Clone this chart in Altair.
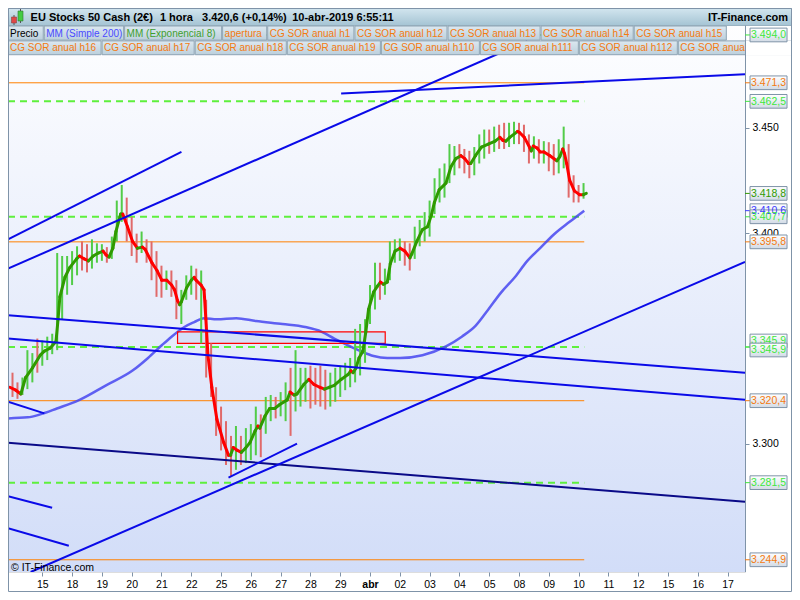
import altair as alt
import pandas as pd

# ------------------------------------------------------------------ data
DAY_LABELS = ["15", "18", "19", "20", "21", "22", "25", "26", "27", "28", "29", "abr",
              "02", "03", "04", "05", "08", "09", "10", "11", "12", "15", "16", "17"]

# 4-hour bars: first bar start (in trading-day index) and bar length
CANDLE_T0 = -7 / 6
CANDLE_STEP = 1 / 6
CANDLE_HIGH = [
    3335.1, 3333.7, 3329.1, 3331.4, 3344.4, 3343.0, 3349.9, 3349.0, 3350.8, 3352.2,
    3390.5, 3389.1, 3389.1, 3391.4, 3393.7, 3396.0, 3394.7, 3397.0, 3395.1, 3394.7,
    3393.3, 3398.3, 3415.4, 3422.8, 3416.8, 3407.6, 3399.7, 3400.7, 3397.0, 3396.0,
    3391.4, 3384.5, 3382.2, 3382.2, 3377.6, 3373.0, 3379.9, 3384.5, 3383.1, 3382.2,
    3368.3, 3347.6, 3326.8, 3317.6, 3310.7, 3303.7, 3308.4, 3303.7, 3307.4, 3309.3,
    3317.6, 3313.9, 3322.2, 3323.1, 3322.2, 3324.5, 3329.1, 3336.0, 3344.4, 3336.0,
    3336.0, 3337.0, 3336.0, 3337.0, 3335.1, 3333.7, 3336.0, 3337.0, 3338.4, 3340.7,
    3354.5, 3356.8, 3359.1, 3375.3, 3385.9, 3385.9, 3383.1, 3396.0, 3397.0, 3397.4,
    3396.0, 3395.1, 3403.0, 3406.2, 3409.9, 3415.4, 3426.0, 3430.7, 3433.0, 3442.2,
    3441.3, 3442.2, 3439.9, 3439.0, 3440.8, 3446.8, 3449.1, 3449.1, 3450.5, 3451.4,
    3452.3, 3452.3, 3452.8, 3452.3, 3451.4, 3446.8, 3445.9, 3444.5, 3443.6, 3443.1,
    3442.2, 3444.5, 3450.5, 3442.2, 3427.4, 3422.8, 3423.7]
CANDLE_LOW = [
    3323.1, 3322.2, 3321.3, 3323.1, 3325.9, 3329.1, 3333.7, 3337.0, 3339.7, 3342.5,
    3344.4, 3359.1, 3370.7, 3375.3, 3379.9, 3382.2, 3381.3, 3383.1, 3385.9, 3386.8,
    3385.9, 3387.7, 3396.0, 3405.3, 3396.0, 3389.1, 3385.9, 3390.5, 3385.9, 3377.6,
    3369.7, 3369.3, 3373.0, 3369.7, 3359.1, 3356.8, 3368.3, 3370.7, 3368.3, 3347.6,
    3331.4, 3322.2, 3303.7, 3296.8, 3289.9, 3284.4, 3287.6, 3289.9, 3290.8, 3292.2,
    3294.5, 3293.6, 3304.7, 3310.7, 3312.0, 3313.0, 3310.7, 3303.7, 3315.3, 3317.6,
    3319.9, 3316.7, 3318.5, 3317.6, 3316.2, 3317.6, 3319.9, 3322.2, 3325.4, 3326.8,
    3329.1, 3332.4, 3338.4, 3356.8, 3363.7, 3368.3, 3370.7, 3377.6, 3385.9, 3386.8,
    3384.5, 3382.2, 3387.7, 3393.7, 3396.0, 3398.3, 3409.0, 3414.5, 3416.8, 3423.7,
    3427.4, 3430.7, 3428.3, 3426.0, 3427.4, 3433.0, 3435.3, 3437.6, 3438.5, 3439.9,
    3439.9, 3440.8, 3442.2, 3442.2, 3438.5, 3433.0, 3435.3, 3433.0, 3433.0, 3429.3,
    3427.4, 3428.3, 3430.7, 3416.8, 3414.5, 3414.5, 3416.3]
# g = bullish bar, r = bearish bar
CANDLE_DIR = ("rrrgggrggg" "gggggrrggg" "rgggrrrgrr" "rrgrrgggrg" "rrrrrrgrgg"
              "grggrggrgg" "grrrrggggg" "gggggrgggg" "rrgggggggg" "grrrgggrgr"
              "rggrrrgrgr" "rggrrrg")

EMA_DAY = [
    -1.09, -0.89, -0.72, -0.56, -0.33, -0.07, 0.07, 0.26, 0.46, 0.53,
    0.59, 0.76, 0.92, 1.15, 1.25, 1.41, 1.55, 1.71, 1.88, 2.04,
    2.14, 2.24, 2.37, 2.47, 2.63, 2.70, 2.86, 3.03, 3.19, 3.36,
    3.45, 3.68, 3.85, 4.01, 4.18, 4.34, 4.44, 4.54, 4.61, 4.67,
    4.84, 5.00, 5.10, 5.16, 5.33, 5.43, 5.49, 5.56, 5.69, 5.86,
    6.09, 6.25, 6.32, 6.41, 6.55, 6.68, 6.81, 6.97, 7.14, 7.24,
    7.30, 7.47, 7.63, 7.80, 7.96, 8.22, 8.32, 8.45, 8.55, 8.78,
    8.95, 9.11, 9.31, 9.47, 9.64, 9.80, 10.03, 10.26, 10.36, 10.43,
    10.53, 10.63, 10.76, 10.86, 10.95, 11.12, 11.25, 11.35, 11.45, 11.58,
    11.68, 11.84, 12.01, 12.17, 12.34, 12.40, 12.57, 12.76, 12.93, 13.06,
    13.16, 13.32, 13.55, 13.72, 13.88, 14.05, 14.18, 14.31, 14.38, 14.54,
    14.74, 14.97, 15.20, 15.36, 15.46, 15.56, 15.69, 15.95, 16.02, 16.18,
    16.35, 16.41, 16.48, 16.61, 16.71, 16.84, 17.04, 17.27, 17.37, 17.47,
    17.53, 17.60, 17.70, 17.86, 18.03, 18.16, 18.26]
EMA_PRICE = [
    3326.8, 3325.4, 3323.6, 3331.4, 3336.0, 3342.0, 3343.9, 3345.3, 3348.5, 3359.1,
    3369.7, 3379.0, 3383.6, 3387.7, 3389.1, 3387.7, 3386.8, 3389.1, 3390.5, 3391.4,
    3389.6, 3388.6, 3392.8, 3400.7, 3409.0, 3409.0, 3403.0, 3396.0, 3392.8, 3393.3,
    3392.3, 3385.9, 3382.2, 3377.6, 3377.6, 3375.3, 3373.0, 3367.9, 3366.0, 3367.4,
    3373.9, 3377.6, 3379.0, 3377.6, 3375.3, 3373.0, 3359.1, 3342.0, 3326.8, 3311.6,
    3300.5, 3294.5, 3294.5, 3298.2, 3296.8, 3295.9, 3297.7, 3300.5, 3306.0, 3308.4,
    3307.4, 3313.0, 3316.7, 3316.7, 3318.5, 3320.8, 3324.5, 3323.1, 3323.6, 3328.2,
    3330.5, 3328.2, 3326.8, 3325.9, 3326.8, 3327.7, 3330.5, 3332.8, 3334.6, 3333.7,
    3336.0, 3340.7, 3343.9, 3353.1, 3363.7, 3372.0, 3374.8, 3376.7, 3375.7, 3376.7,
    3385.4, 3391.4, 3392.8, 3391.4, 3388.2, 3390.0, 3396.0, 3401.6, 3403.0, 3408.5,
    3414.5, 3420.5, 3423.7, 3431.6, 3435.3, 3436.7, 3435.3, 3433.0, 3433.0, 3436.7,
    3440.8, 3442.2, 3443.6, 3445.4, 3444.0, 3443.6, 3445.4, 3448.2, 3447.7, 3445.4,
    3440.8, 3439.0, 3441.3, 3440.3, 3438.5, 3438.5, 3436.7, 3434.3, 3436.2, 3439.9,
    3437.6, 3433.0, 3425.1, 3420.0, 3418.2, 3418.2, 3418.8]

SMA_DAY = [-1.15, -0.49, -0.07, 0.49, 1.25, 2.14, 3.03, 3.55, 4.01, 4.34, 4.77, 5.10,
           5.43, 5.86, 6.51, 7.17, 8.06, 8.82, 9.38, 9.80, 10.26, 10.69, 11.12, 11.58,
           12.01, 12.76, 13.55, 14.08, 14.54, 14.97, 15.39, 15.86, 16.28, 16.71, 17.17,
           17.70, 18.19]
SMA_PRICE = [3312.0, 3312.5, 3313.9, 3316.7, 3320.8, 3327.7, 3334.7, 3340.7, 3346.7,
             3350.8, 3355.4, 3357.7, 3359.6, 3359.1, 3359.6, 3358.2, 3356.8, 3355.4,
             3353.1, 3349.9, 3346.7, 3343.9, 3341.6, 3340.7, 3340.7, 3342.0, 3346.2,
             3350.8, 3355.9, 3363.7, 3371.6, 3379.0, 3386.8, 3392.8, 3399.3, 3405.3,
             3410.6]

ORANGE_LEVELS = [3471.3, 3395.8, 3320.4, 3244.9]
GREEN_LEVELS = [3494.0, 3462.5, 3407.7, 3345.9, 3281.5]
LEVEL_FROM = -1.151
LEVEL_TO = 18.19

# trend lines: start day, start price, end day, end price, kind
TL_D0 = [-1.151, -1.151, 10.03, -1.151, -1.151, -1.151, -1.151, -1.151, -1.151, 6.25, -0.39]
TL_P0 = [3383.1, 3397.0, 3466.2, 3361.0, 3349.9, 3300.5, 3319.9, 3275.1, 3259.9, 3283.9, 3239.1]
TL_D1 = [16.28, 4.67, 23.586, 23.586, 23.586, 23.586, 0.07, 0.33, 0.89, 8.55, 23.586]
TL_P1 = [3491.1, 3438.5, 3475.4, 3333.7, 3320.8, 3272.4, 3314.4, 3269.6, 3251.6, 3300.0, 3386.3]
TL_KIND = ["blue", "blue", "blue", "blue", "blue", "navy", "blue", "blue", "blue", "blue", "blue"]

ZONE_D = [4.54, 11.51]
ZONE_P = [3347.6, 3353.1]

TAG_VALUE = [3494.0, 3471.3, 3462.5, 3418.8, 3410.6, 3407.7, 3395.8, 3345.9, 3345.9,
             3320.4, 3281.5, 3244.9]
TAG_TEXT = ["3.494,0", "3.471,3", "3.462,5", "3.418,8", "3.410,6", "3.407,7", "3.395,8",
            "3.345,9", "3.345,9", "3.320,4", "3.281,5", "3.244,9"]
TAG_KIND = ["level", "pivot", "level", "ema", "sma", "level", "pivot", "level", "level",
            "pivot", "level", "pivot"]

AXIS_VALUES = [3300, 3400, 3450]

LEGEND_ROW1 = ["Precio", "MM (Simple 200)", "MM (Exponencial 8)", "apertura",
               "CG SOR anual h1", "CG SOR anual h12", "CG SOR anual h13",
               "CG SOR anual h14", "CG SOR anual h15"]
LEGEND_ROW2 = ["CG SOR anual h16", "CG SOR anual h17", "CG SOR anual h18",
               "CG SOR anual h19", "CG SOR anual h110", "CG SOR anual h111",
               "CG SOR anual h112", "CG SOR anual h113"]

HEADER_PARTS = ["EU Stocks 50 Cash (2€)", "1 hora", "3.420,6 (+0,14%)", "10-abr-2019 6:55:11"]

# ------------------------------------------------------------------ style / layout
FONT = "Liberation Sans"
SX, SY = 0.98, 0.9733           # reference-pixel to chart-pixel factors
W, H = 737, 564
XS = alt.Scale(domain=[-1.151, 23.586], nice=False, zero=False)
YS = alt.Scale(domain=[3239.1, 3506.8], nice=False, zero=False)
BORDER = "#7f93a8"
ORANGE = "#f47a10"
COLORS = {"level": "#3de83d", "pivot": "#f47a10", "ema": "#2f9a00", "sma": "#3c3cff"}
TL_COLORS = {"blue": "#0a0ae8", "navy": "#0a0a88"}
CANDLE_COLORS = {"g": "#52cc48", "r": "#e06a6a"}
EMA_COLORS = {"up": "#2f9a00", "down": "#ff0000"}

label_arr = "[" + ",".join("'%s'" % s for s in DAY_LABELS) + "]"
XA = alt.Axis(values=list(range(len(DAY_LABELS))), labelExpr=label_arr + "[datum.value]",
              title=None, grid=False, domain=False, tickSize=4, tickColor=BORDER,
              labelFontSize=10.5, labelFont=FONT, labelColor="#000", labelPadding=3,
              labelOverlap=False, labelFlush=False,
              labelFontWeight={"condition": {"test": "datum.value == 11", "value": "bold"},
                               "value": "normal"})
YA = alt.Axis(orient="right", values=AXIS_VALUES,
              labelExpr="replace(format(datum.value, ',.0f'), ',', '.')",
              title=None, grid=False, domain=False, tickSize=4, tickColor=BORDER,
              labelFontSize=10.5, labelFont=FONT, labelColor="#000", labelPadding=3,
              labelOverlap=False, labelFlush=False)

ONE = pd.DataFrame({"k": [0]})


def grad(c0, c1):
    return alt.LinearGradient(gradient="linear", x1=0, y1=0, x2=0, y2=1,
                              stops=[alt.GradientStop(color=c0, offset=0),
                                     alt.GradientStop(color=c1, offset=1)])


def xq(f):
    return alt.X(f, type="quantitative", scale=XS, axis=XA)


def yq(f):
    return alt.Y(f, type="quantitative", scale=YS, axis=YA)


RAW = lambda f: alt.Color(f, type="nominal", scale=None)

layers = []

# plot background
layers.append(alt.Chart(ONE).mark_rect(fill=grad("#ffffff", "#d2ddf8")).encode(
    x=alt.value(0), x2=alt.value(W), y=alt.value(0), y2=alt.value(H)))

# zone fill
zone = pd.DataFrame({"d0": [ZONE_D[0]], "d1": [ZONE_D[1]], "p0": [ZONE_P[0]], "p1": [ZONE_P[1]]})
layers.append(alt.Chart(zone).mark_rect(fill="#d5dff7").encode(
    x=xq("d0"), x2="d1:Q", y=yq("p0"), y2="p1:Q"))

# horizontal levels
olev = pd.DataFrame({"d0": LEVEL_FROM, "d1": LEVEL_TO, "p": ORANGE_LEVELS})
layers.append(alt.Chart(olev).mark_rule(color="#ff8000", strokeWidth=1).encode(
    x=xq("d0"), x2="d1:Q", y=yq("p")))
glev = pd.DataFrame({"d0": LEVEL_FROM, "d1": LEVEL_TO, "p": GREEN_LEVELS})
layers.append(alt.Chart(glev).mark_rule(color="#5ef03c", strokeWidth=2, strokeDash=[7, 5]).encode(
    x=xq("d0"), x2="d1:Q", y=yq("p")))

# SMA 200
sma = pd.DataFrame({"d": SMA_DAY, "p": SMA_PRICE})
layers.append(alt.Chart(sma).mark_line(color="#4646f0", strokeWidth=2.5, opacity=0.85,
                                       interpolate="monotone", clip=True).encode(
    x=xq("d"), y=yq("p")))

# zone outline (red)
layers.append(alt.Chart(zone).mark_rect(filled=False, fillOpacity=0, stroke="#ff0000",
                                        strokeWidth=1.2).encode(
    x=xq("d0"), x2="d1:Q", y=yq("p0"), y2="p1:Q"))

# candles
candles = pd.DataFrame({
    "t": [CANDLE_T0 + i * CANDLE_STEP for i in range(len(CANDLE_HIGH))],
    "hi": CANDLE_HIGH, "lo": CANDLE_LOW, "c": [CANDLE_COLORS[d] for d in CANDLE_DIR]})
layers.append(alt.Chart(candles).mark_rule(strokeWidth=2, clip=True).encode(
    x=xq("t"), y=yq("lo"), y2="hi:Q", color=RAW("c")))

# EMA 8 coloured by direction
segs, prev = [], "up"
for i in range(len(EMA_DAY) - 1):
    a, b = EMA_PRICE[i], EMA_PRICE[i + 1]
    dirn = "up" if b > a else ("down" if b < a else prev)
    prev = dirn
    segs.append({"d0": EMA_DAY[i], "p0": a, "d1": EMA_DAY[i + 1], "p1": b, "c": EMA_COLORS[dirn]})
layers.append(alt.Chart(pd.DataFrame(segs)).mark_rule(strokeWidth=3, strokeCap="round", clip=True).encode(
    x=xq("d0"), x2="d1:Q", y=yq("p0"), y2="p1:Q", color=RAW("c")))

# trend lines
tl = pd.DataFrame({"d0": TL_D0, "p0": TL_P0, "d1": TL_D1, "p1": TL_P1,
                   "c": [TL_COLORS[k] for k in TL_KIND]})
layers.append(alt.Chart(tl).mark_rule(strokeWidth=2, clip=True).encode(
    x=xq("d0"), x2="d1:Q", y=yq("p0"), y2="p1:Q", color=RAW("c")))

# header bar
layers.append(alt.Chart(ONE).mark_rect(fill=grad("#d3e6ef", "#a5c4d4"), stroke="#9ab3c2").encode(
    x=alt.value(0), x2=alt.value(784), y=alt.value(0), y2=alt.value(17.5)))
# icon
layers.append(alt.Chart(ONE).mark_rule(color="#555", strokeWidth=1).encode(
    x=alt.value(6), y=alt.value(7), y2=alt.value(17)))
layers.append(alt.Chart(ONE).mark_rect(fill="#e04848", stroke="#884444", strokeWidth=0.6).encode(
    x=alt.value(3.5), x2=alt.value(8.5), y=alt.value(9), y2=alt.value(15)))
layers.append(alt.Chart(ONE).mark_rule(color="#555", strokeWidth=1).encode(
    x=alt.value(12.5), y=alt.value(1), y2=alt.value(15)))
layers.append(alt.Chart(ONE).mark_rect(fill="#44cc44", stroke="#337733", strokeWidth=0.6).encode(
    x=alt.value(10), x2=alt.value(15), y=alt.value(3), y2=alt.value(13)))
hx = [23, 155, 198, 290]
hdr = pd.DataFrame({"x": [SX * v for v in hx], "t": HEADER_PARTS})
layers.append(alt.Chart(hdr).mark_text(align="left", baseline="middle", font=FONT, fontSize=11,
                                       fontWeight="bold", color="#000").encode(
    x=alt.X("x:Q", scale=None), y=alt.value(9.5), text="t:N"))
layers.append(alt.Chart(ONE).mark_text(align="right", baseline="middle", font=FONT, fontSize=11,
                                       fontWeight="bold", color="#000", text="IT-Finance.com").encode(
    x=alt.value(SX * 796), y=alt.value(9.5)))

# legend cells
edges1 = [0, 37, 119, 219, 265, 354, 449, 544, 639, 734]
edges2 = [0, 96, 191, 285, 381, 482, 583, 684, 800]
col1 = ["#000000", "#4a4aff", "#3f9f2f"] + [ORANGE] * 6
rows = []
for i, lab in enumerate(LEGEND_ROW1):
    rows.append({"x0": SX * edges1[i], "x1": SX * edges1[i + 1] - 1, "y0": SY * 18.5, "y1": SY * 33,
                 "lab": lab, "c": col1[i]})
for i, lab in enumerate(LEGEND_ROW2):
    rows.append({"x0": SX * edges2[i], "x1": SX * edges2[i + 1] - 1, "y0": SY * 33.8, "y1": SY * 48,
                 "lab": lab, "c": ORANGE})
leg = pd.DataFrame(rows)
leg["tx"] = leg["x0"] + 2
leg["ty"] = (leg["y0"] + leg["y1"]) / 2 + 0.5
layers.append(alt.Chart(leg).mark_rect(fill=grad("#dce8f0", "#bcd0dc"), stroke="#8ea4b4", strokeWidth=1).encode(
    x=alt.X("x0:Q", scale=None), x2="x1:Q", y=alt.Y("y0:Q", scale=None), y2="y1:Q"))
layers.append(alt.Chart(leg).mark_text(align="left", baseline="middle", font=FONT, fontSize=10).encode(
    x=alt.X("tx:Q", scale=None), y=alt.Y("ty:Q", scale=None), text="lab:N", color=RAW("c")))

# white right column mask next to legend row 2
layers.append(alt.Chart(ONE).mark_rect(fill="#ffffff").encode(
    x=alt.value(W + 0.5), x2=alt.value(784), y=alt.value(SY * 33.5), y2=alt.value(SY * 49)))
# right axis border line
layers.append(alt.Chart(ONE).mark_rule(color=BORDER, strokeWidth=1).encode(
    x=alt.value(W + 0.5), y=alt.value(SY * 18), y2=alt.value(H)))

# price tags
tags = pd.DataFrame({"p": TAG_VALUE, "t": TAG_TEXT, "c": [COLORS[k] for k in TAG_KIND]})
NUDGE = {7: -6, 8: 3}
tags["nudge"] = [NUDGE.get(i, 0) for i in range(len(tags))]
layers.append(alt.Chart(tags).mark_rule(strokeWidth=1).encode(
    x=alt.value(W), x2=alt.value(W + 5), y=yq("p"), color=RAW("c")))
BOX = "M-1,-0.37L1,-0.37L1,0.37L-1,0.37Z"
bx = W + SX * 24
for nd in sorted(set(tags["nudge"]), key=lambda v: (v != 0, v)):
    sub = tags[tags["nudge"] == nd]
    layers.append(alt.Chart(sub).mark_point(shape=BOX, size=37 * 37, filled=True, opacity=1,
                                            fill=grad("#ffffff", "#d2dbe6"), stroke=BORDER,
                                            strokeWidth=1, yOffset=nd).encode(
        x=alt.value(bx), y=yq("p")))
    layers.append(alt.Chart(sub).mark_text(align="center", baseline="middle", font=FONT,
                                           fontSize=10.5, yOffset=nd + 0.5).encode(
        x=alt.value(bx), y=yq("p"), text="t:N", color=RAW("c")))

# copyright
layers.append(alt.Chart(ONE).mark_text(align="left", baseline="middle", font=FONT, fontSize=10.5,
                                       color="#000", text="© IT-Finance.com").encode(
    x=alt.value(3), y=alt.value(SY * 575)))

# outer border
layers.append(alt.Chart(ONE).mark_rect(filled=False, stroke=BORDER, strokeWidth=1).encode(
    x=alt.value(0.5), x2=alt.value(783.5), y=alt.value(0.5), y2=alt.value(583.5)))

chart = alt.layer(*layers).properties(
    width=W, height=H,
    padding={"left": 0, "top": 0, "right": 47, "bottom": 20},
    autosize=alt.AutoSizeParams(type="none"),
    background="#ffffff",
).configure_view(stroke=BORDER, strokeWidth=1).configure(font=FONT)

chart.save("out.html", embed_options={"renderer": "svg", "actions": False})
